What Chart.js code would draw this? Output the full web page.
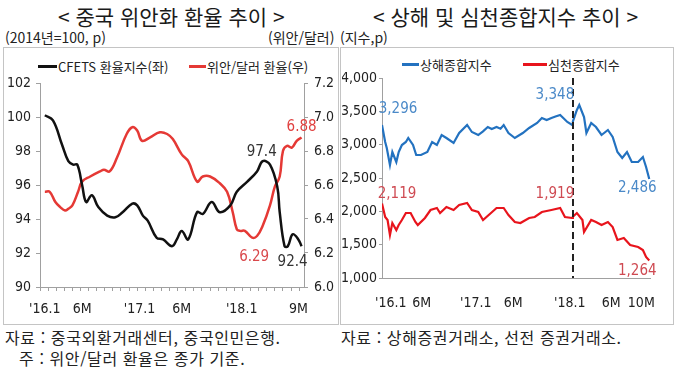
<!DOCTYPE html>
<html lang="ko">
<head>
<meta charset="utf-8">
<script src="https://cdn.jsdelivr.net/npm/chart.js@4.4.0/dist/chart.umd.min.js"></script>
<style>
  body { margin: 0; background: #fff; font-family: 'Noto Sans CJK KR', sans-serif; color: #222; }
  #page { position: relative; width: 680px; height: 369px; overflow: hidden; }
  .abs { position: absolute; white-space: nowrap; line-height: 1; }
  .title { font-size: 21px; top: 6px; color: #1a1a1a; }
  .unit { font-size: 14px; top: 30px; }
  .box { position: absolute; border: 1px solid #c4c4c4; box-sizing: border-box; }
  .legend { position: absolute; font-size: 13px; line-height: 1; top: 60px; display: flex; align-items: center; white-space: nowrap; }
  .swatch { display: inline-block; height: 3px; margin-right: 1px; }
  .note { font-size: 16px; letter-spacing: 0.6px; }
  canvas { position: absolute; }
</style>
</head>
<body>
<div id="page">
  <!-- left panel -->
  <div class="box" style="left:3px;top:47px;width:336px;height:278px;"></div>
  <div class="abs title" style="left:58px;">&lt; 중국 위안화 환율 추이 &gt;</div>
  <div class="abs unit" style="left:5px;">(2014년=100, p)</div>
  <div class="abs unit" style="left:268px;">(위안/달러)</div>
  <div class="legend" style="left:38px;"><span class="swatch" style="width:19px;background:#111;"></span>CFETS 환율지수(좌)</div>
  <div class="legend" style="left:189px;"><span class="swatch" style="width:17px;background:#e53935;"></span>위안/달러 환율(우)</div>
  <canvas id="cnyChart" width="333" height="275" style="left:4px;top:48px;"></canvas>

  <!-- right panel -->
  <div class="box" style="left:340px;top:47px;width:334px;height:278px;"></div>
  <div class="abs title" style="left:373px;">&lt; 상해 및 심천종합지수 추이 &gt;</div>
  <div class="abs unit" style="left:340px;">(지수,p)</div>
  <div class="legend" style="left:402px;top:58px;"><span class="swatch" style="width:17px;background:#2372c0;"></span>상해종합지수</div>
  <div class="legend" style="left:523px;top:58px;"><span class="swatch" style="width:24px;background:#e8141c;"></span>심천종합지수</div>
  <canvas id="stockChart" width="330" height="275" style="left:342px;top:48px;"></canvas>

  <!-- footnotes -->
  <div class="abs note" style="left:5px;top:329px;">자료 : 중국외환거래센터, 중국인민은행.</div>
  <div class="abs note" style="left:19px;top:350px;">주 : 위안/달러 환율은 종가 기준.</div>
  <div class="abs note" style="left:341px;top:329px;">자료 : 상해증권거래소, 선전 증권거래소.</div>
</div>

<script>
// ---- Data: CNY (months since Jan 2016) ----
const cfetsMonths = [0.6, 1.6, 2.7, 3.5, 4.1, 4.6, 5.2, 5.7, 6.4, 7.2, 8.3, 9.3, 10.2, 11.4, 12.0, 12.7, 13.3, 14.4, 15.2, 16.3, 16.9, 17.5, 18.3, 19.4, 20.1, 21.2, 22.2, 23.5, 24.3, 25.6, 26.8, 27.5, 28.4, 29.3, 29.6, 30.2, 30.6, 31.2, 31.9, 32.3];
const cfetsValues = [100.1, 99.8, 98.4, 97.4, 97.2, 97.2, 96.0, 95.0, 95.4, 94.7, 94.2, 94.1, 94.4, 94.9, 94.8, 94.2, 93.9, 92.9, 92.8, 92.4, 92.8, 93.3, 92.8, 94.4, 94.3, 95.0, 94.4, 94.8, 95.6, 96.2, 96.8, 97.4, 97.2, 95.9, 94.4, 92.4, 92.4, 93.1, 92.8, 92.4];
const cnyMonths = [0.6, 1.2, 1.9, 2.5, 3.1, 3.5, 4.0, 4.7, 5.2, 6.2, 7.4, 7.9, 8.6, 9.5, 10.7, 11.4, 12.0, 12.6, 13.6, 14.8, 15.7, 16.4, 17.5, 18.3, 19.4, 20.1, 21.0, 22.2, 23.1, 23.8, 24.3, 24.7, 25.3, 26.2, 26.8, 27.5, 28.4, 29.0, 29.6, 30.0, 30.5, 31.1, 31.7, 32.3];
const cnyValues = [6.56, 6.56, 6.50, 6.47, 6.45, 6.46, 6.48, 6.56, 6.62, 6.65, 6.68, 6.69, 6.68, 6.76, 6.90, 6.94, 6.92, 6.86, 6.88, 6.91, 6.90, 6.87, 6.78, 6.74, 6.62, 6.65, 6.65, 6.61, 6.56, 6.44, 6.34, 6.33, 6.33, 6.29, 6.30, 6.36, 6.48, 6.59, 6.65, 6.80, 6.83, 6.82, 6.86, 6.88];
const cnyMonthTicks = 33;
const cnyLabelAt = [0.6, 5.2, 12.3, 17.5, 24.9, 31.9];
const cnyTickLabels = ["'16.1", '6M', "'17.1", '6M', "'18.1", '9M'];

// ---- Data: Shanghai / Shenzhen composite ----
const shMonths = [0, 0.4, 0.6, 1.0, 1.3, 1.8, 2.1, 2.5, 3.0, 3.3, 3.9, 4.3, 4.9, 5.7, 6.3, 6.9, 7.5, 8.1, 9.0, 9.7, 10.7, 11.3, 12.1, 12.7, 13.3, 13.8, 14.4, 14.9, 15.3, 15.9, 16.7, 17.7, 18.5, 19.5, 20.1, 20.7, 21.3, 21.9, 22.4, 23.3, 23.9, 24.0, 24.5, 24.8, 25.4, 25.7, 26.3, 26.9, 27.6, 28.4, 29.0, 29.6, 30.2, 30.8, 31.4, 32.2, 32.8, 33.2, 33.6];
const shValues = [3296, 3040, 2950, 2695, 2890, 2740, 2890, 2995, 3040, 3100, 2995, 2845, 2845, 2890, 3040, 2995, 3145, 3100, 3025, 3175, 3295, 3190, 3145, 3200, 3265, 3235, 3265, 3240, 3295, 3175, 3100, 3175, 3250, 3325, 3400, 3370, 3400, 3425, 3445, 3340, 3295, 3348, 3520, 3595, 3415, 3175, 3325, 3265, 3145, 3220, 3115, 2890, 2800, 2890, 2740, 2740, 2815, 2665, 2486];
const szMonths = [0, 0.4, 0.7, 1.0, 1.3, 1.8, 2.1, 2.5, 3.0, 3.6, 4.2, 4.5, 5.4, 6.1, 6.9, 7.3, 8.1, 9.0, 9.7, 10.7, 11.3, 12.1, 12.7, 13.7, 14.4, 15.3, 15.9, 16.7, 17.4, 18.5, 19.2, 20.1, 21.3, 22.4, 23.0, 23.9, 24.0, 24.5, 25.2, 25.4, 26.3, 26.9, 27.6, 28.4, 29.0, 29.6, 30.4, 31.2, 32.2, 32.8, 33.2, 33.6];
const szValues = [2119, 1915, 1870, 1645, 1825, 1720, 1795, 1870, 1975, 1975, 1840, 1795, 1900, 2020, 2050, 1975, 2065, 2020, 2095, 2125, 2020, 1990, 1870, 1975, 2050, 2050, 1945, 1840, 1825, 1900, 1915, 1990, 2020, 2050, 1915, 1900, 1919, 1975, 1870, 1690, 1870, 1840, 1795, 1840, 1765, 1570, 1600, 1495, 1465, 1420, 1315, 1264];
const stockLabelAt = [1.1, 5.0, 11.8, 16.5, 23.6, 28.8, 32.6];
const stockTickLabels = ["'16.1", '6M', "'17.1", '6M', "'18.1", '6M', '10M'];
const stockMarkMonth = 24;

const NUM_FONT = "'Liberation Sans Narrow', 'DejaVu Sans Condensed', Arial, sans-serif";
const AXIS = '#a0a0a0';
const CLEAR = 'rgba(0,0,0,0)';

const toPoints = (xs, ys) => xs.map((x, i) => ({ x, y: ys[i] }));

// draws value labels next to chosen points
function noteLabels(items) {
  return {
    id: 'noteLabels',
    afterDatasetsDraw(chart) {
      const ctx = chart.ctx;
      ctx.save();
      ctx.font = '15px ' + NUM_FONT;
      ctx.textAlign = 'center';
      ctx.textBaseline = 'middle';
      items.forEach(n => {
        const pt = chart.getDatasetMeta(n.series).data[n.index];
        ctx.fillStyle = n.color;
        ctx.fillText(n.text, pt.x + n.dx, pt.y + n.dy);
      });
      ctx.restore();
    }
  };
}

// ---- Left chart ----
const peakIdx = cfetsValues.indexOf(97.4, 20);
const lowIdx = cnyValues.indexOf(6.29);
const cnyTicks = [];
for (let m = 0; m < cnyMonthTicks; m++) cnyTicks.push(m);
cnyLabelAt.forEach(v => cnyTicks.push(v));
cnyTicks.sort((a, b) => a - b);

new Chart(document.getElementById('cnyChart'), {
  type: 'line',
  data: {
    datasets: [
      { data: toPoints(cfetsMonths, cfetsValues), yAxisID: 'y', borderColor: '#111', borderWidth: 2.5, pointRadius: 0, tension: 0.4 },
      { data: toPoints(cnyMonths, cnyValues), yAxisID: 'y1', borderColor: '#e53935', borderWidth: 2.5, pointRadius: 0, tension: 0.4 }
    ]
  },
  options: {
    responsive: false, animation: false, devicePixelRatio: 1,
    layout: { padding: { top: 35, left: 0, right: 0, bottom: 0 } },
    plugins: { legend: { display: false }, tooltip: { enabled: false } },
    scales: {
      x: {
        type: 'linear', min: 0, max: 32.6,
        afterBuildTicks: s => { s.ticks = cnyTicks.map(v => ({ value: v })); },
        afterFit: s => { s.height = 36; },
        ticks: {
          autoSkip: false, maxRotation: 0, padding: 10, color: '#222', font: { size: 14, family: NUM_FONT },
          callback: v => { const i = cnyLabelAt.indexOf(v); return i >= 0 ? cnyTickLabels[i] : ''; }
        },
        grid: {
          drawOnChartArea: false, drawTicks: true, tickLength: 4, color: AXIS,
          tickColor: c => (c.tick && cnyLabelAt.includes(c.tick.value)) ? CLEAR : AXIS
        },
        border: { color: AXIS }
      },
      y: {
        position: 'left', min: 90, max: 102,
        afterFit: s => { s.width = 36; },
        ticks: { stepSize: 2, padding: 5, color: '#222', font: { size: 14, family: NUM_FONT } },
        grid: { drawOnChartArea: false, tickLength: 4, color: AXIS },
        border: { color: AXIS }
      },
      y1: {
        position: 'right', min: 6.0, max: 7.2,
        afterFit: s => { s.width = 33; },
        ticks: { stepSize: 0.2, padding: 6, color: '#222', font: { size: 14, family: NUM_FONT }, callback: v => v.toFixed(1) },
        grid: { drawOnChartArea: false, tickLength: 4, color: AXIS },
        border: { color: AXIS }
      }
    }
  },
  plugins: [noteLabels([
    { series: 0, index: peakIdx, text: '97.4', dx: -1, dy: -9, color: '#333' },
    { series: 0, index: cfetsValues.length - 1, text: '92.4', dx: -9, dy: 16, color: '#333' },
    { series: 1, index: cnyValues.length - 1, text: '6.88', dx: 0, dy: -10, color: '#e0403f' },
    { series: 1, index: lowIdx, text: '6.29', dx: 2, dy: 19, color: '#d9484b' }
  ])]
});

// ---- Right chart ----
const markIdxSh = shMonths.indexOf(stockMarkMonth);
const markIdxSz = szMonths.indexOf(stockMarkMonth);

const markLine = {
  id: 'markLine',
  afterDatasetsDraw(chart) {
    const { ctx, chartArea, scales } = chart;
    const x = Math.round(scales.x.getPixelForValue(stockMarkMonth));
    ctx.save();
    ctx.strokeStyle = '#222';
    ctx.lineWidth = 2;
    ctx.setLineDash([7, 4]);
    ctx.beginPath();
    ctx.moveTo(x, chartArea.top);
    ctx.lineTo(x, chartArea.bottom);
    ctx.stroke();
    ctx.restore();
  }
};

new Chart(document.getElementById('stockChart'), {
  type: 'line',
  data: {
    datasets: [
      { data: toPoints(shMonths, shValues), borderColor: '#2372c0', borderWidth: 2.2, pointRadius: 0, tension: 0 },
      { data: toPoints(szMonths, szValues), borderColor: '#e8141c', borderWidth: 2.2, pointRadius: 0, tension: 0 }
    ]
  },
  options: {
    responsive: false, animation: false, devicePixelRatio: 1,
    layout: { padding: { top: 30, left: 0, right: 7, bottom: 0 } },
    plugins: { legend: { display: false }, tooltip: { enabled: false } },
    scales: {
      x: {
        type: 'linear', min: 0, max: 33.8,
        afterBuildTicks: s => { s.ticks = stockLabelAt.map(v => ({ value: v })); },
        afterFit: s => { s.height = 45; },
        ticks: {
          autoSkip: false, maxRotation: 0, padding: 17, color: '#222', font: { size: 14, family: NUM_FONT },
          callback: v => { const i = stockLabelAt.indexOf(v); return i >= 0 ? stockTickLabels[i] : ''; }
        },
        grid: { drawOnChartArea: false, drawTicks: false, color: AXIS },
        border: { color: AXIS }
      },
      y: {
        min: 1000, max: 4000,
        afterFit: s => { s.width = 40; },
        ticks: { stepSize: 500, padding: 2, color: '#222', font: { size: 14, family: NUM_FONT }, callback: v => v.toLocaleString('en-US') },
        grid: { drawOnChartArea: false, tickLength: 3, color: AXIS },
        border: { color: AXIS }
      }
    }
  },
  plugins: [markLine, noteLabels([
    { series: 0, index: 0, text: '3,296', dx: 16, dy: -16, color: '#4a89c8' },
    { series: 0, index: markIdxSh, text: '3,348', dx: -18, dy: -26, color: '#4a89c8' },
    { series: 0, index: shValues.length - 1, text: '2,486', dx: -12, dy: 9, color: '#4a89c8' },
    { series: 1, index: 0, text: '2,119', dx: 15, dy: -9, color: '#cf4a52' },
    { series: 1, index: markIdxSz, text: '1,919', dx: -18, dy: -23, color: '#cf4a52' },
    { series: 1, index: szValues.length - 1, text: '1,264', dx: -12, dy: 11, color: '#cf4a52' }
  ])]
});
</script>
</body>
</html>
